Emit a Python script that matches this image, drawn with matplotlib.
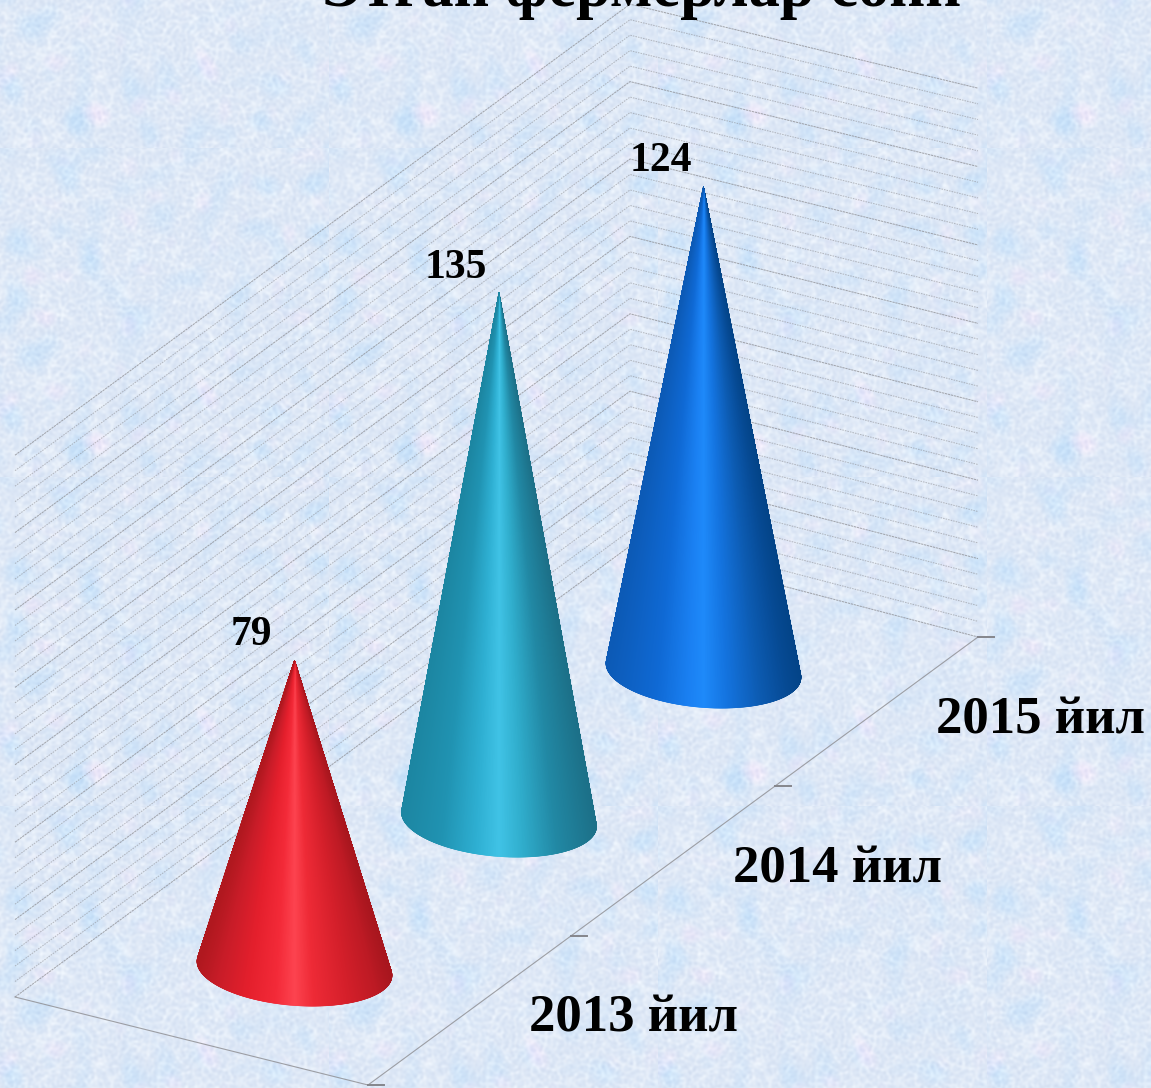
import numpy as np
import matplotlib
matplotlib.use("Agg")
import matplotlib.pyplot as plt
from matplotlib.collections import PolyCollection
from matplotlib.colors import LinearSegmentedColormap

years = ["2013 йил", "2014 йил", "2015 йил"]
values = [79, 135, 124]
title = "Этган фермерлар сони"
grid_values = list(range(0, 141, 4))

red_stops = [(0, "#b0181f"), (.1, "#c81c28"), (.25, "#e41f2c"), (.4, "#f32a38"),
             (.5, "#fd4450"), (.6, "#ee2a36"), (.78, "#d41f2a"), (.92, "#bd1a24"), (1, "#a8161e")]
teal_stops = [(0, "#1c86a2"), (.2, "#2093b2"), (.38, "#2eafd2"), (.5, "#40c3e6"),
              (.62, "#30aecd"), (.8, "#2188a4"), (1, "#1c7088")]
blue_stops = [(0, "#0c5ab6"), (.25, "#0f69d4"), (.42, "#1a80f2"), (.5, "#1e8afa"),
              (.62, "#1474e0"), (.8, "#0c5ab0"), (.93, "#064a94"), (1, "#034488")]
cone_stops = [red_stops, teal_stops, blue_stops]

W, H = 1151, 1088
# floor corners of the 3d box, in pixels
FRONT_LEFT = np.array([15, 997])
FRONT_RIGHT = np.array([368, 1085])
BACK_LEFT = np.array([630, 546])
BACK_RIGHT = np.array([978, 637])
STEP = (BACK_RIGHT - FRONT_RIGHT) / 3
FIRST_BASE = np.array([294.5, 968.5])
CONE_STEP = np.array([204.5, -149])
PX_PER_UNIT = 3.9
WALL_PX = 3.87


def band(size, seed, lo, hi):
    # hash noise, kept only between wavelengths hi and lo (pixels)
    yy, xx = np.mgrid[0:size, 0:size]
    n = np.sin(xx * 12.9898 + yy * 78.233 + seed) * 43758.5453
    n = n - np.floor(n) - .5
    fy = np.fft.fftfreq(size)[:, None]
    fx = np.fft.fftfreq(size)[None, :]
    f = np.hypot(fx, fy)
    out = np.fft.ifft2(np.fft.fft2(n) * ((f > 1 / hi) & (f < 1 / lo))).real
    return out / out.std()


def background():
    # one tile of mottled paper, not periodic so the seams show when repeated
    tile = 329
    size = 2 * tile
    veins = np.exp(-(band(size, 1.3, 10, 24) / .45) ** 2)
    fine = band(size, 2.7, 4, 9)
    blue = np.clip(band(size, 4.1, 35, 130), 0, 3)
    pink = np.clip(band(size, 5.9, 35, 100) - 1, 0, 3)
    img = np.zeros((size, size, 3))
    img[..., 0] = 218 + 17 * veins + 5 * fine - 7 * blue + 6 * pink
    img[..., 1] = 229 + 13 * veins + 4.5 * fine - 2 * blue - 1 * pink
    img[..., 2] = 245 + 6 * veins + 3 * fine + 1 * blue + 1 * pink
    # soften it, the original is a blurry jpeg
    fy = np.fft.fftfreq(size)[:, None]
    fx = np.fft.fftfreq(size)[None, :]
    blur = np.exp(-2 * (np.pi * 1.1) ** 2 * (fx ** 2 + fy ** 2))
    for k in range(3):
        img[..., k] = np.fft.ifft2(np.fft.fft2(img[..., k]) * blur).real
    img = np.clip(img, 0, 255)[40:40 + tile, 40:40 + tile] / 255
    # seams fall at x=329 and y=148
    full = np.tile(img, (5, 5, 1))
    return full[tile - 148:tile - 148 + H, :W]


def wall_point(corner, value):
    return corner - np.array([0, value * WALL_PX])


fig = plt.figure(figsize=(W / 100, H / 100), dpi=100)
ax = fig.add_axes([0, 0, 1, 1])
ax.imshow(background(), extent=(0, W, H, 0), zorder=0, interpolation="bilinear")
ax.set_xlim(0, W)
ax.set_ylim(H, 0)
ax.axis("off")

# back walls
for v in grid_values:
    a = wall_point(FRONT_LEFT, v)
    b = wall_point(BACK_LEFT, v)
    c = wall_point(BACK_RIGHT, v * 1.013)
    major = v % 20 == 0
    ax.plot([a[0], b[0], c[0]], [a[1], b[1], c[1]], color="#86868a",
            lw=.75, alpha=.68 if major else .5,
            ls=(0, (2.2, .7)) if major else (0, (1.5, 1)), zorder=1)

# floor edges and ticks
ax.plot(*zip(FRONT_LEFT, FRONT_RIGHT), color="#8c8c90", lw=.8, alpha=.8, zorder=1)
ax.plot(*zip(FRONT_RIGHT, BACK_RIGHT), color="#8c8c90", lw=.8, alpha=.8, zorder=1)
for i in range(4):
    p = FRONT_RIGHT + STEP * i
    ax.plot([p[0], p[0] + 16], [p[1], p[1]], color="#85868c", lw=1.4, zorder=1)

# cones, built as a fan of facets from the tip to the base ellipse
for i, value in enumerate(values):
    base = FIRST_BASE + CONE_STEP * i
    apex = base - np.array([0, value * PX_PER_UNIT])
    t = np.linspace(-np.pi / 2, 3 * np.pi / 2, 1441)
    ex = base[0] + 97.5 * np.cos(t)
    ey = base[1] + 7 * np.cos(t) + 37 * np.sin(t)
    angle = np.arctan2(ex - apex[0], ey - apex[1])
    right, left = np.argmax(angle), np.argmin(angle)
    ex, ey = ex[right:left + 1], ey[right:left + 1]
    cmap = LinearSegmentedColormap.from_list("cone", cone_stops[i])
    shade = (ex - ex.min()) / (ex.max() - ex.min())
    facets = [[apex, (ex[j], ey[j]), (ex[j + 1], ey[j + 1])] for j in range(len(ex) - 1)]
    colors = cmap(shade[:-1])
    ax.add_collection(PolyCollection(facets, facecolors=colors, edgecolors=colors,
                                     linewidths=.4, zorder=3 + i))
    ax.text(apex[0] - 43, apex[1] - 25.5, str(value), fontsize=30, fontweight="bold",
            family="Liberation Serif", ha="center", va="center", color="black", zorder=8)
    p = FRONT_RIGHT + STEP * i
    ax.text(p[0] + 266, p[1] - 66, years[i], fontsize=38, fontweight="bold",
            family="Liberation Serif", ha="center", va="center", color="black", zorder=8)

ax.text(641, 6, title, fontsize=45, fontweight="bold", family="Liberation Serif",
        ha="center", va="baseline", color="black", zorder=8)

fig.savefig("out.png", dpi=100)
